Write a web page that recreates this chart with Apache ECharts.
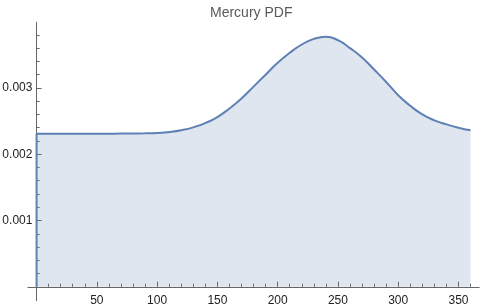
<!DOCTYPE html>
<html><head><meta charset="utf-8">
<script src="https://cdn.jsdelivr.net/npm/echarts@6/dist/echarts.min.js"></script>
<style>html,body{margin:0;padding:0;background:#fff}#c{width:480px;height:308px}</style>
</head><body><div id="c"></div>
<script>
var titleText = "Mercury PDF";
var xs = [0,10,20,30,40,50,60,70,80,90,100,110,120,130,140,150,160,170,180,190,200,210,220,230,240,250,260,270,280,290,300,310,320,330,340,350,360];
var pdf = [0.002310,0.002310,0.002310,0.002310,0.002310,0.002310,0.002310,0.002311,0.002313,0.002315,0.002319,0.002335,0.002362,0.002405,0.00247,0.00256,0.00269,0.00284,0.00302,0.00320,0.00338,0.00353,0.003655,0.00374,0.003772,0.00372,0.00360,0.00346,0.003278,0.00309,0.00289,0.00273,0.00260,0.00251,0.00245,0.00240,0.00236];
var xMajorTicks = [50,100,150,200,250,300,350];
var xMinorTicks = [10,20,30,40,60,70,80,90,110,120,130,140,160,170,180,190,210,220,230,240,260,270,280,290,310,320,330,340,360];
var yMajorTicks = [0.001,0.002,0.003];
var yMinorTicks = [0.0002,0.0004,0.0006,0.0008,0.0012,0.0014,0.0016,0.0018,0.0022,0.0024,0.0026,0.0028,0.0032,0.0034,0.0036,0.0038];

var lineColor = '#5E81B5';
var axisColor = '#666666';
var xMin = -7.2, xMax = 367.2, yMin = -0.00021, yMax = 0.00399;
var gridBox = {left: 27.9, top: 22.3, width: 451.3, height: 278.4, containLabel: false, outerBoundsMode: 'none'};

var curve = xs.map(function(x, i){ return [x, pdf[i]]; });
var edge = [[xs[0], 0], [xs[0], pdf[0]]];

function xAx(gi, ticks, len, labels) {
  return {type:'value', gridIndex: gi, min: xMin, max: xMax,
    axisLine: {show: gi === 0, onZero: true, lineStyle: {color: axisColor, width: 1}},
    axisTick: {show: true, inside: true, length: len, customValues: ticks, lineStyle: {color: axisColor}},
    axisLabel: labels ? {show: true, customValues: ticks, margin: -6, color: '#222', fontSize: 12, fontFamily: 'Liberation Sans'} : {show: false},
    splitLine: {show: false}};
}
function yAx(gi, ticks, len, labels) {
  return {type:'value', gridIndex: gi, min: yMin, max: yMax,
    axisLine: {show: gi === 0, onZero: true, lineStyle: {color: axisColor, width: 1}},
    axisTick: {show: true, inside: true, length: len, customValues: ticks, lineStyle: {color: axisColor}},
    axisLabel: labels ? {show: true, customValues: ticks, margin: -4.5, color: '#222', fontSize: 12, fontFamily: 'Liberation Sans',
      formatter: function(v){ return v.toFixed(3); }} : {show: false},
    splitLine: {show: false}};
}

var chart = echarts.init(document.getElementById('c'), null, {renderer: 'canvas'});
chart.setOption({
  animation: false,
  title: {text: titleText, left: 205, top: 1, textStyle: {color: '#5a5a5a', fontSize: 14, fontWeight: 'normal', fontFamily: 'Liberation Sans'}},
  grid: [Object.assign({}, gridBox), Object.assign({}, gridBox)],
  xAxis: [xAx(0, xMajorTicks, 5, true), xAx(1, xMinorTicks, 3, false)],
  yAxis: [yAx(0, yMajorTicks, 5, true), yAx(1, yMinorTicks, 3, false)],
  series: [
    {type: 'line', xAxisIndex: 0, yAxisIndex: 0, data: curve, showSymbol: false, smooth: 0.5,
      lineStyle: {color: lineColor, width: 2}, areaStyle: {color: lineColor, opacity: 0.2, origin: 0}, z: 3},
    {type: 'line', xAxisIndex: 0, yAxisIndex: 0, data: edge, showSymbol: false,
      lineStyle: {color: lineColor, width: 2}, z: 3}
  ]
});
</script></body></html>
